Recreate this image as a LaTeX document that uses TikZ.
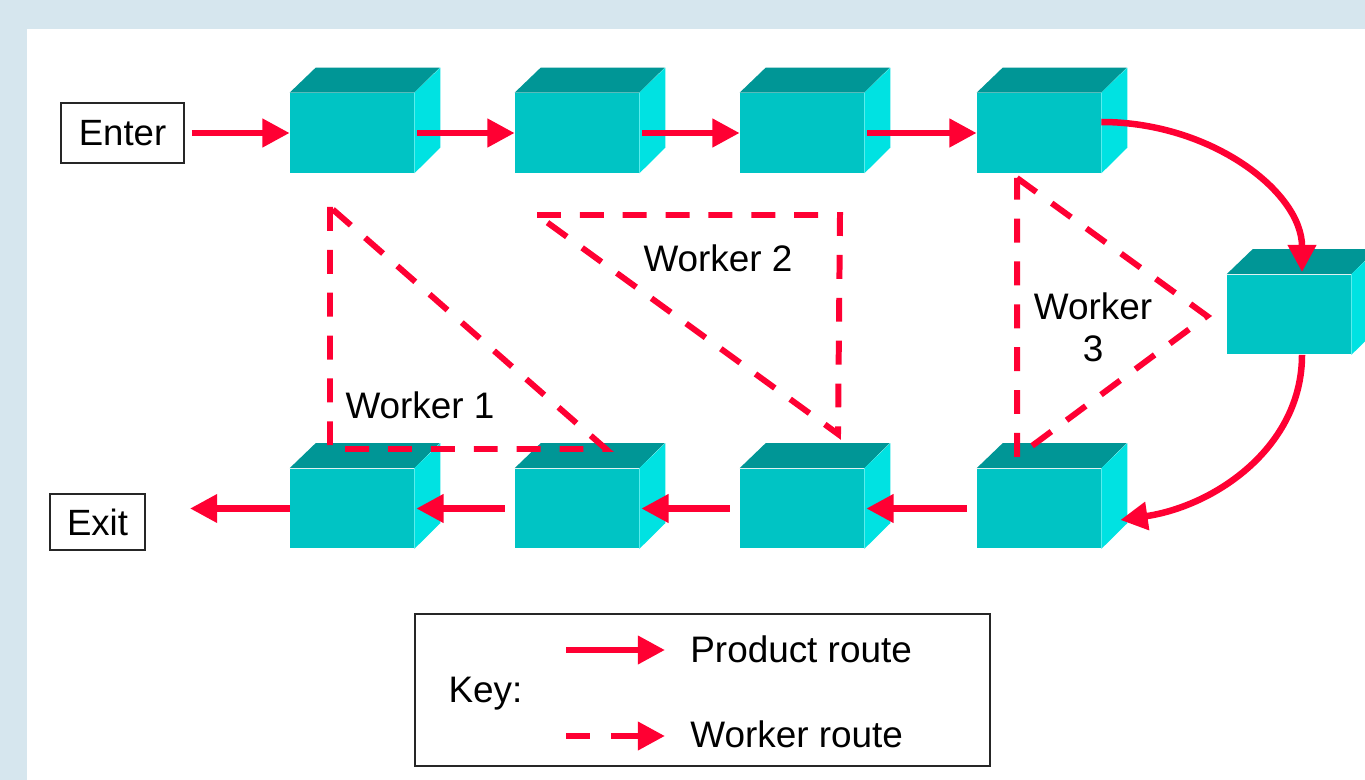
\documentclass[tikz,border=0pt]{standalone}
\usepackage{fontspec}
\setmainfont{Liberation Sans}
\usetikzlibrary{arrows.meta}
\definecolor{bgblue}{RGB}{214,230,238}
\definecolor{cubefront}{RGB}{0,196,196}
\definecolor{cubetop}{RGB}{0,150,150}
\definecolor{cubeside}{RGB}{0,226,226}
\definecolor{routered}{RGB}{255,0,51}
\tikzset{
  cube/.style={rectangle, fill=cubefront, inner sep=0pt,
    minimum width=2.48cm, minimum height=1.6cm},
  labelbox/.style={rectangle, draw=black!85, line width=1pt, fill=white,
    inner sep=0pt, font=\fontsize{20.8}{24}\selectfont},
  txt/.style={inner sep=0pt, font=\fontsize{21}{24}\selectfont},
  product/.style={draw=routered, line width=3.7pt,
    -{Triangle[length=15.5pt,width=15.5pt]}},
  worker/.style={draw=routered, line width=3.4pt, line join=miter,
    dash pattern=on 13.6pt off 10.8pt},
}
\begin{document}
\begin{tikzpicture}[x=0.02cm, y=-0.02cm]
  \useasboundingbox (0,0) rectangle (1365,780);
  \clip (0,0) rectangle (1365,780);
  % backdrop and white sheet
  \fill[bgblue] (0,0) rectangle (1365,780);
  \fill[white] (27,29) rectangle (1365,780);

  % workstation cubes (front faces)
  \node[cube] (t1) at (352,133) {};
  \node[cube] (t2) at (577,133) {};
  \node[cube] (t3) at (802,133) {};
  \node[cube] (t4) at (1039,133) {};
  \node[cube] (r)  at (1289,314.5) {};
  \node[cube] (u4) at (1039,508.5) {};
  \node[cube] (u3) at (802,508.5) {};
  \node[cube] (u2) at (577,508.5) {};
  \node[cube] (u1) at (352,508.5) {};
  % top and side faces
  \foreach \c in {t1,t2,t3,t4,r,u4,u3,u2,u1} {
    \fill[cubetop] (\c.north west) -- ++(26,-25) -- ++(124,0)
      -- (\c.north east) -- cycle;
    \fill[cubeside] (\c.north east) -- ++(26,-25) -- ++(0,80)
      -- (\c.south east) -- cycle;
  }

  % entry and exit labels
  \node[labelbox, minimum width=2.46cm, minimum height=1.2cm] (enter)
    at (122.5,133) {Enter};
  \node[labelbox, minimum width=1.9cm, minimum height=1.12cm] (exit)
    at (97.5,522) {Exit};
  \coordinate (exittip) at (190,508.5);

  % product route
  \draw[product] ([xshift=0.14cm]enter.east) -- (t1.west);
  \draw[product] ([xshift=0.06cm]t1.east) -- (t2.west);
  \draw[product] ([xshift=0.06cm]t2.east) -- (t3.west);
  \draw[product] ([xshift=0.06cm]t3.east) -- (t4.west);
  \draw[product] ([yshift=0.22cm]t4.east)
    .. controls +(110,0) and +(0,-80) .. ([xshift=0.26cm,yshift=0.04cm]r.north);
  \draw[product] ([xshift=0.26cm]r.south)
    .. controls +(0,92) and +(95,-14) .. ([xshift=0.38cm,yshift=-0.23cm]u4.east);
  \draw[product] ([xshift=-0.2cm]u4.west) -- ([xshift=0.04cm]u3.east);
  \draw[product] ([xshift=-0.2cm]u3.west) -- ([xshift=0.04cm]u2.east);
  \draw[product] ([xshift=-0.2cm]u2.west) -- ([xshift=0.04cm]u1.east);
  \draw[product] (u1.west) -- (exittip);

  % worker routes
  \coordinate (w1a) at (330,207);
  \coordinate (w1b) at (330,449);
  \coordinate (w1c) at (606,449);
  \draw[worker] (w1a) -- (w1b) -- (w1c) -- cycle;
  \coordinate (w2a) at (537,215);
  \coordinate (w2b) at (840,215);
  \coordinate (w2c) at (838,434);
  \draw[worker] (w2a) -- (w2b) -- (w2c) -- cycle;
  \coordinate (w3a) at (1017,178);
  \coordinate (w3b) at (1207,316);
  \coordinate (w3c) at (1017,457);
  \draw[worker] (w3a) -- (w3b) -- (w3c) -- cycle;

  \node[txt] (lab1) at (420,405) {Worker 1};
  \node[txt] (lab2) at (718,258) {Worker 2};
  \node[txt, align=center] (lab3) at (1093,327) {Worker\\3};

  % key
  \node[labelbox, minimum width=11.5cm, minimum height=3.04cm] (key)
    at (702.5,690) {};
  \node[txt, anchor=base] (keytitle) at (485.5,702) {Key:};
  \coordinate (k1a) at (566,650);
  \coordinate (k1b) at (665,650);
  \coordinate (k2a) at (566,736);
  \coordinate (k2b) at (665,736);
  \draw[product] (k1a) -- (k1b);
  \draw[product, dash pattern=on 13.6pt off 11.9pt on 40pt] (k2a) -- (k2b);
  \node[txt, anchor=base west] (k1t) at (690,662) {Product route};
  \node[txt, anchor=base west] (k2t) at (690,747) {Worker route};
\end{tikzpicture}
\end{document}
